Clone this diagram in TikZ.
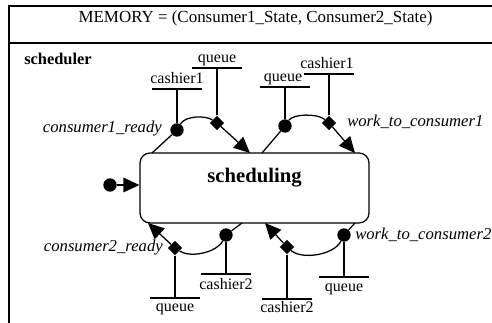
\documentclass[tikz,border=0pt]{standalone}
\usepackage{fontspec}
\setmainfont{Liberation Serif}
\usetikzlibrary{arrows.meta,shapes.geometric}
\begin{document}
\begin{tikzpicture}[x=0.75pt,y=-0.75pt,
  frame/.style={line width=1.2pt},
  conn/.style={line width=0.95pt},
  tip/.style={-{Triangle[length=12pt,width=11pt]}},
  inport/.style={circle,fill,inner sep=0pt,minimum size=10pt},
  outport/.style={diamond,fill,inner sep=0pt,minimum size=11pt},
  txt/.style={inner sep=0pt,font=\fontsize{12pt}{14pt}\selectfont},
  evt/.style={inner sep=0pt,font=\fontsize{12.5pt}{14pt}\selectfont\itshape},
  statebox/.style={draw,line width=0.95pt,rounded corners=7.5pt,minimum width=171.75pt,minimum height=52.5pt,inner sep=0pt}
]
\useasboundingbox (0,0) rectangle (492,323);
% frame
\draw[frame] (500,6) -- (9,6) -- (9,330);
\draw[frame] (9,43) -- (500,43);
\node[inner sep=0pt,anchor=base,font=\fontsize{12.7pt}{14pt}\selectfont] (title) at (255.5,23) {MEMORY = (Consumer1\_State, Consumer2\_State)};
\node[txt,anchor=base west,font=\fontsize{12.3pt}{14pt}\selectfont\bfseries] (comp) at (24,65) {scheduler};
% state
\node[statebox] (state) at (254.5,188) {};
\node[inner sep=0pt,anchor=base,font=\fontsize{15.5pt}{18pt}\selectfont\bfseries] (statename) at (254.5,183) {scheduling};
% initial
\node[inport] (init) at (110,185) {};
\draw[conn,tip] (init) -- (init -| state.west);
% ports
\node[inport] (c1) at (177,130) {};
\node[outport] (d1) at (217,123) {};
\node[inport] (c2) at (285,126) {};
\node[outport] (d2) at (329,123) {};
\node[inport] (c3) at (226,235) {};
\node[outport] (d3) at (175,248) {};
\node[inport] (c4) at (344,235) {};
\node[outport] (d4) at (287,247) {};
% connector endpoints on box
\coordinate (s1) at (152,153); \coordinate (t1) at (250,153);
\coordinate (s2) at (262,153); \coordinate (t2) at (355,153);
\coordinate (s3) at (242,223); \coordinate (t3) at (148,223);
\coordinate (s4) at (355,223); \coordinate (t4) at (265,223);
% transitions
\draw[conn] (s1) -- (c1);
\draw[conn] (c1) .. controls (185,116) and (205,115) .. (d1);
\draw[conn,tip] (d1) -- (t1);
\draw[conn] (s2) -- (c2);
\draw[conn] (c2) .. controls (293,114) and (317,113) .. (d2);
\draw[conn,tip] (d2) -- (t2);
\draw[conn] (s3) -- (c3);
\draw[conn] (c3) .. controls (216,253) and (190,258) .. (d3);
\draw[conn,tip] (d3) -- (t3);
\draw[conn] (s4) -- (c4);
\draw[conn] (c4) .. controls (334,255) and (302,260) .. (d4);
\draw[conn,tip] (d4) -- (t4);
% bars
\coordinate (b1) at (177,89);
\coordinate (b2) at (217,68);
\coordinate (b3) at (285,87);
\coordinate (b4) at (329,74);
\coordinate (b5) at (226,274);
\coordinate (b6) at (175,298);
\coordinate (b7) at (344,277);
\coordinate (b8) at (287,299);
\foreach \p/\b in {c1/b1,d1/b2,c2/b3,d2/b4,c3/b5,d3/b6,c4/b7,d4/b8}{
  \draw[conn] (\p) -- (\b);
  \draw[conn] ([xshift=-18.5pt]\b) -- ([xshift=18.5pt]\b);
}
% bar labels
\node[txt,anchor=base] (l1) at (177,84) {cashier1};
\node[txt,anchor=base] (l2) at (217,63) {queue};
\node[txt,anchor=base] (l3) at (283,82) {queue};
\node[txt,anchor=base] (l4) at (327,69) {cashier1};
\node[txt,anchor=base] (l5) at (226,290) {cashier2};
\node[txt,anchor=base] (l6) at (175,312) {queue};
\node[txt,anchor=base] (l7) at (344,292) {queue};
\node[txt,anchor=base] (l8) at (287,313) {cashier2};
% event labels
\node[evt,anchor=base east] (e1) at (162,133) {consumer1\_ready};
\node[evt,anchor=base west] (e2) at (347,127) {work\_to\_consumer1};
\node[evt,anchor=base east] (e3) at (163,252) {consumer2\_ready};
\node[evt,anchor=base west] (e4) at (355,240) {work\_to\_consumer2};
\end{tikzpicture}
\end{document}
